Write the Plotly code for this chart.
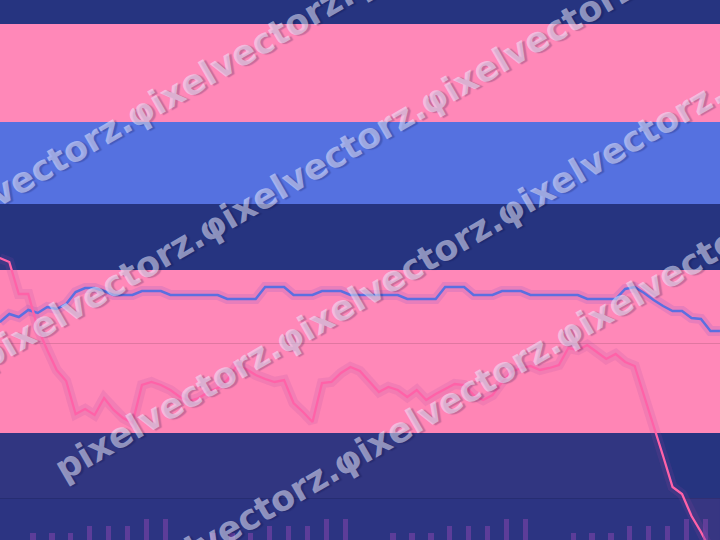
import plotly.graph_objects as go

# ---------------- data ----------------
# hourly volume bars: four sessions of eight bars (x in hourly slots)
bar_slots = [0, 1, 2, 3, 4, 5, 6, 7,
             9.5, 10.5, 11.5, 12.5, 13.5, 14.5, 15.5, 16.5,
             19, 20, 21, 22, 23, 24, 25, 26,
             28.5, 29.5, 30.5, 31.5, 32.5, 33.5, 34.5, 35.5]
bar_volume = [1, 1, 1, 2, 2, 2, 3, 3,
              1, 1, 1, 2, 2, 2, 3, 3,
              1, 1, 1, 2, 2, 2, 3, 3,
              1, 1, 1, 2, 2, 2, 3, 3]

# half-hourly samples of the two lines
line_slots = [-1.75, -1.25, -0.75, -0.25, 0.25, 0.75, 1.25, 1.75, 2.25, 2.75,
              3.25, 3.75, 4.25, 4.75, 5.25, 5.75, 6.25, 6.75, 7.25, 7.75,
              8.25, 8.75, 9.25, 9.75, 10.25, 10.75, 11.25, 11.75, 12.25, 12.75,
              13.25, 13.75, 14.25, 14.75, 15.25, 15.75, 16.25, 16.75, 17.25, 17.75,
              18.25, 18.75, 19.25, 19.75, 20.25, 20.75, 21.25, 21.75, 22.25, 22.75,
              23.25, 23.75, 24.25, 24.75, 25.25, 25.75, 26.25, 26.75, 27.25, 27.75,
              28.25, 28.75, 29.25, 29.75, 30.25, 30.75, 31.25, 31.75, 32.25, 32.75,
              33.25, 33.75, 34.25, 34.75, 35.25, 35.75, 36.25]

blue_values = [176, 184, 181, 188, 185, 191, 189, 194, 206, 210,
               210, 207, 203, 203, 203, 207, 207, 207, 203, 203,
               203, 203, 203, 203, 199, 199, 199, 199, 211, 211,
               211, 203, 203, 203, 207, 207, 207, 203, 203, 203,
               203, 203, 203, 199, 199, 199, 199, 211, 211, 211,
               203, 203, 203, 207, 207, 207, 203, 203, 203, 203,
               203, 203, 199, 199, 199, 199, 209, 211, 205, 198,
               192, 187, 187, 180, 179, 167, 167]

pink_values = [240, 236, 204, 204, 170, 148, 128, 117, 84, 89,
               83, 100, 88, 80, 75, 113, 116, 113, 108, 101,
               97, 100, 106, 110, 118, 132, 129, 123, 119, 116,
               118, 95, 86, 76, 115, 116, 125, 131, 127, 116,
               106, 111, 108, 101, 108, 98, 104, 109, 114, 113,
               103, 98, 103, 116, 126, 130, 132, 128, 130, 133,
               150, 148, 153, 146, 139, 144, 136, 132, 103, 72,
               42, 11, 4, -18, -34, -52, -67]

grid_values = [0, 155]

watermark_word = "ixelvectorz."

# ---------------- figure ----------------
W, H = 720, 540
NAVY = "#263480"

fig = go.Figure()

fig.add_trace(go.Bar(x=bar_slots, y=bar_volume, yaxis="y2", width=0.27,
                     marker=dict(color="rgba(140,70,175,0.5)", line=dict(width=0)),
                     hoverinfo="skip", showlegend=False))

fig.add_trace(go.Scatter(x=line_slots, y=pink_values, mode="lines", fill="tozeroy",
                         fillcolor="rgba(255,90,150,0.055)", line=dict(width=0),
                         hoverinfo="skip", showlegend=False))

fig.add_trace(go.Scatter(x=line_slots, y=blue_values, mode="lines",
                         line=dict(color="rgba(150,90,200,0.22)", width=10),
                         hoverinfo="skip", showlegend=False))
fig.add_trace(go.Scatter(x=line_slots, y=pink_values, mode="lines",
                         line=dict(color="rgba(165,70,165,0.14)", width=10),
                         hoverinfo="skip", showlegend=False))
fig.add_trace(go.Scatter(x=line_slots, y=blue_values, mode="lines",
                         line=dict(color="#5b6fe0", width=2.5),
                         hoverinfo="skip", showlegend=False))
fig.add_trace(go.Scatter(x=line_slots, y=pink_values, mode="lines",
                         line=dict(color="#ff62a8", width=2.3),
                         hoverinfo="skip", showlegend=False))

# background bands (pixel rows of the picture)
bands = [(24, 122, "#ff88b8"), (122, 204, "#5571e0"),
         (270, 433, "#ff88b8"), (498, 540, "#2c3482")]
shapes = []
for top, bot, col in bands:
    shapes.append(dict(type="rect", xref="paper", yref="paper", layer="below",
                       x0=0, x1=1, y0=1 - bot / H, y1=1 - top / H,
                       fillcolor=col, line=dict(width=0)))

# watermark rows: (intercept of centre line at x=0, chunk start x positions)
rows = [(193, [-313, -92, 129, 350], False),
        (349, [-20, 201, 422, 643], True),
        (505, [57, 278, 499, 720], True),
        (661, [115, 336, 557, 778], True)]
P = 221
T = 0.5774
annotations = []
for b, starts, first_p in rows:
    for i, xs in enumerate(starts):
        txt = ("p" if (i == 0 and first_p) else "φ") + watermark_word
        cx = xs + P / 2
        cy = b - T * cx
        annotations.append(dict(
            text=txt, xref="paper", yref="paper", x=cx / W, y=1 - cy / H,
            xanchor="center", yanchor="middle", showarrow=False, textangle=-30,
            font=dict(family="DejaVu Sans", size=35, weight="bold",
                      color="rgba(235,235,255,0.55)",
                      shadow="2px 2px 1px rgba(10,10,60,0.4)")))

fig.update_layout(
    width=W, height=H, margin=dict(l=0, r=0, t=0, b=0),
    paper_bgcolor=NAVY, plot_bgcolor=NAVY,
    xaxis=dict(range=[-1.7414, 36.253], visible=False, fixedrange=True),
    yaxis=dict(range=[-42, 498], showticklabels=False, ticks="", showline=False,
               tickvals=grid_values, showgrid=True, gridcolor="rgba(0,0,0,0.12)",
               gridwidth=1, zeroline=False, fixedrange=True),
    yaxis2=dict(range=[0, 540 / 7], overlaying="y", visible=False, fixedrange=True),
    shapes=shapes, annotations=annotations, bargap=0, showlegend=False,
    hovermode=False,
)

fig.write_html("out.html",
               config={"displayModeBar": False, "staticPlot": True},
               post_script="document.body.style.margin='0';"
                           "document.body.style.overflow='hidden';")
